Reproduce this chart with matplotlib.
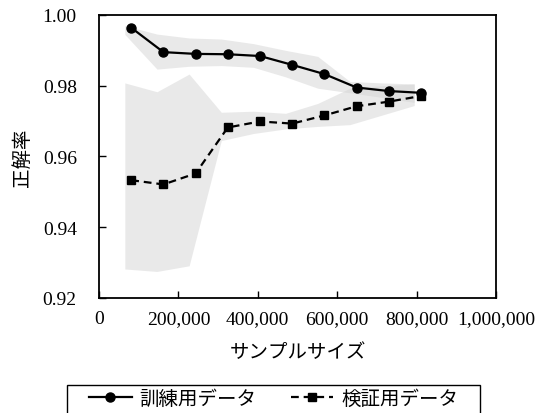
import matplotlib
matplotlib.use('Agg')
import matplotlib.pyplot as plt
from matplotlib.patches import Rectangle
from matplotlib.ticker import FuncFormatter, MultipleLocator

plt.rcParams['font.family'] = ['Liberation Serif', 'Noto Sans CJK JP']
plt.rcParams['font.size'] = 14

# sample sizes and mean accuracies
sample_size = [81100, 162200, 243300, 324400, 405500, 486600, 567700, 648800, 729900, 811000]
train_acc = [0.9964, 0.9895, 0.9890, 0.9889, 0.9884, 0.9859, 0.9833, 0.9795, 0.9785, 0.9780]
valid_acc = [0.9533, 0.9521, 0.9552, 0.9682, 0.9699, 0.9693, 0.9716, 0.9742, 0.9755, 0.9771]

# spread bands (drawn slightly left of the points)
band_x = [65000, 146000, 227000, 308000, 389000, 470000, 551000, 632000, 713000, 794000]
train_hi = [0.9970, 0.9946, 0.9935, 0.9932, 0.9919, 0.9900, 0.9883, 0.9812, 0.9808, 0.9805]
train_lo = [0.9945, 0.9847, 0.9855, 0.9857, 0.9852, 0.9825, 0.9793, 0.9780, 0.9767, 0.9753]
valid_hi = [0.9808, 0.9783, 0.9833, 0.9725, 0.9728, 0.9722, 0.9750, 0.9793, 0.9800, 0.9805]
valid_lo = [0.9282, 0.9275, 0.9291, 0.9645, 0.9665, 0.9678, 0.9685, 0.9690, 0.9717, 0.9744]

fig = plt.figure(figsize=(5.42, 4.14), dpi=100)
ax = fig.add_axes([0.1827, 0.2778, 0.7324, 0.6836])

ax.fill_between(band_x, train_lo, train_hi, color='#d4d4d4', alpha=0.5, lw=0)
ax.fill_between(band_x, valid_lo, valid_hi, color='#d4d4d4', alpha=0.5, lw=0)

ax.plot(sample_size, train_acc, '-o', color='black', lw=1.6, ms=6.5, label='訓練用データ')
ax.plot(sample_size, valid_acc, '--s', color='black', lw=1.6, ms=5.6,
        dashes=(3.5, 2.2), label='検証用データ')

ax.set_xlim(0, 1000000)
ax.set_ylim(0.92, 1.00)
ax.xaxis.set_major_locator(MultipleLocator(200000))
ax.yaxis.set_major_locator(MultipleLocator(0.02))
ax.xaxis.set_major_formatter(FuncFormatter(lambda v, p: '{:,.0f}'.format(v)))
ax.yaxis.set_major_formatter(FuncFormatter(lambda v, p: '{:.2f}'.format(v)))
ax.tick_params(axis='x', direction='in', length=5, width=1, pad=9)
ax.tick_params(axis='y', direction='in', length=5, width=1, pad=16)
for s in ax.spines.values():
    s.set_linewidth(1.3)

ax.set_xlabel('サンプルサイズ', labelpad=11)
ax.set_ylabel('正解率', labelpad=8)

# legend text without its own frame; a wider box is drawn around it
fig.legend(loc='center', bbox_to_anchor=(0.5046, 0.034), ncol=2, frameon=False,
           handlelength=2.2, handletextpad=0.4, columnspacing=1.75)
fig.patches.append(Rectangle((67 / 542, -0.01), 413 / 542, 28 / 414 + 0.01,
                             transform=fig.transFigure, fill=False,
                             edgecolor='black', linewidth=1.0))

fig.savefig('out.png', dpi=100)
